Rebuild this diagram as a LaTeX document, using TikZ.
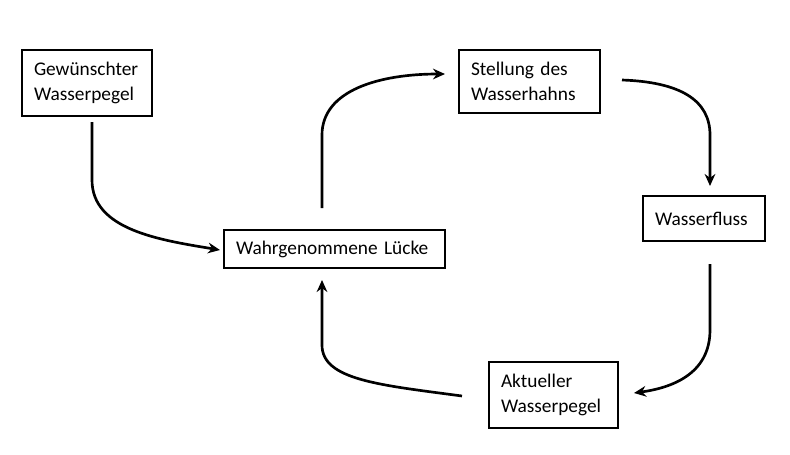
\documentclass[tikz,border=0pt]{standalone}
\usepackage{fontspec}
\setmainfont{Carlito}
\usetikzlibrary{arrows.meta}
\begin{document}
\begin{tikzpicture}[x=0.75pt,y=-0.75pt,
  box/.style={draw,line width=0.8pt,inner xsep=9pt,inner ysep=0pt,align=left,font=\fontsize{14.5}{18.5}\selectfont},
  arr/.style={line width=2pt,-{Stealth[length=9pt,width=8pt]}}]
\useasboundingbox (0,0) rectangle (790,454);
\node[box,text width=79.5pt,minimum height=49.5pt] (g) at (87,83) {Gewünschter\\Wasserpegel};
\node[box,text width=87.75pt,minimum height=47.25pt] (s) at (529.5,81.5) {Stellung des\\Wasserhahns};
\node[box,text width=73.5pt,minimum height=33.75pt] (f) at (704,218.5) {Wasserfluss};
\node[box,text width=147.75pt,minimum height=28.5pt] (l) at (334.5,249) {Wahrgenommene Lücke};
\node[box,text width=78.75pt,minimum height=49.5pt] (a) at (553.5,395) {Aktueller\\Wasserpegel};
\coordinate (g1) at (92,122); \coordinate (l1) at (220,250);
\coordinate (l2) at (322,208); \coordinate (s1) at (445,74);
\coordinate (s2) at (622,80); \coordinate (f1) at (710,186);
\coordinate (f2) at (710,264); \coordinate (a1) at (634,393);
\coordinate (a2) at (462,396); \coordinate (l3) at (322,280);
\draw[arr] (g1) -- (92,180) .. controls (92,230) and (160,240) .. (l1);
\draw[arr] (l2) -- (322,135) .. controls (322,90) and (380,74) .. (s1);
\draw[arr] (s2) .. controls (680,82) and (710,100) .. (710,135) -- (f1);
\draw[arr] (f2) -- (710,330) .. controls (710,375) and (670,388) .. (a1);
\draw[arr] (a2) .. controls (380,385) and (322,380) .. (322,345) -- (l3);
\end{tikzpicture}
\end{document}
